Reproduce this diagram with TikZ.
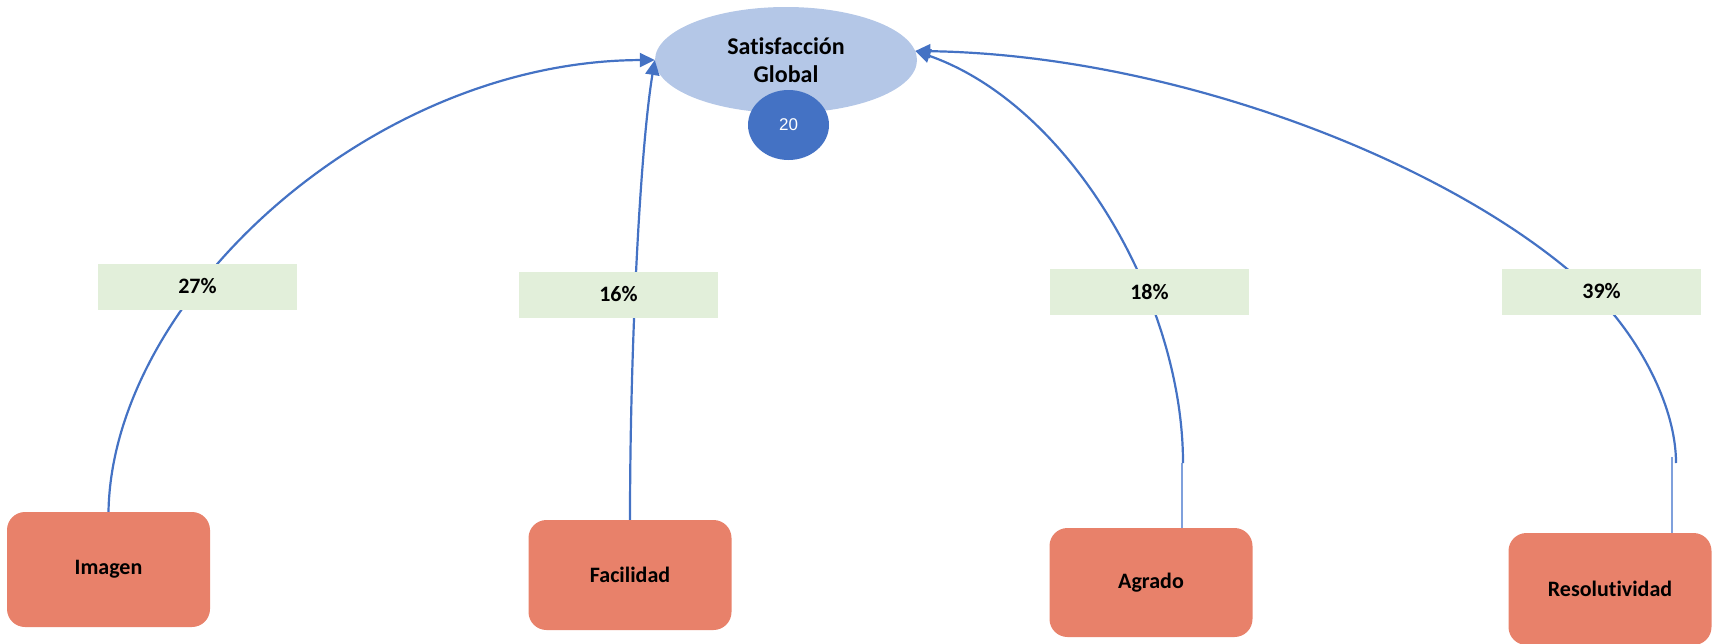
\documentclass[tikz,border=0pt]{standalone}
\usepackage{fontspec}
\setmainfont[Ligatures=NoCommon]{Carlito}
\newfontfamily\arialf{Liberation Sans}
\usetikzlibrary{shapes.geometric,arrows.meta}
\definecolor{lblue}{HTML}{4472C4}
\definecolor{ell}{HTML}{B4C7E7}
\definecolor{org}{HTML}{E8816A}
\definecolor{grn}{HTML}{E2EFDA}
\definecolor{thinb}{HTML}{7FA0DC}
\begin{document}
\begin{tikzpicture}[x=1pt,y=-1pt,
  factor/.style={fill=org, rounded corners=18pt, minimum width=203pt, inner sep=0pt,
    font=\bfseries\fontsize{22}{26}\selectfont},
  pct/.style={fill=grn, minimum width=199pt, minimum height=46pt, inner sep=0pt,
    font=\bfseries\fontsize{22}{26}\selectfont},
  link/.style={draw=lblue, line width=2.2pt, -{Triangle[length=15pt,width=14pt]}},
  stub/.style={draw=thinb, line width=1.2pt}]
\useasboundingbox (0,0) rectangle (1718,643);

% central ellipse
\node[ellipse, fill=ell, minimum width=262pt, minimum height=106pt, inner sep=0pt,
  align=center, font=\bfseries\fontsize{24}{28}\selectfont] (sat) at (786,60) {Satisfacción\\Global};
\node[ellipse, fill=lblue, minimum width=81pt, minimum height=70pt, inner sep=0pt,
  text=white, font=\arialf\fontsize{17}{20}\selectfont] (n20) at (788.5,125) {20};

% factor boxes
\node[factor, minimum height=115pt] (imagen) at (108.5,569.5) {Imagen};
\node[factor, minimum height=110pt] (facil) at (630,575) {Facilidad};
\node[factor, minimum height=109pt] (agrado) at (1151,582.5) {Agrado};
\node[factor, minimum height=112pt] (resol) at (1610,589) {Resolutividad};

% helper coordinates
\coordinate (agc) at (1183,463);
\coordinate (agt) at (1182,463);
\coordinate (rsc) at (1676,463);
\coordinate (rst) at (1672,457);
\coordinate (rsm) at (1592,291);

% connectors
\draw[link] (imagen.north) .. controls (112,300) and (370,61) .. (sat.west);
\draw[link] (facil.north) .. controls (630,350) and (640,150) .. (sat.west);
\draw[stub] (agrado.north -| agt) -- (agt);
\draw[link] (agc) .. controls (1183,300) and (1070,105) .. (sat.4);
\draw[stub] (resol.north -| rst) -- (rst);
\draw[link] (rsc) .. controls (1676,403) and (1635,332) .. (rsm)
  .. controls (1462,167) and (1180,55) .. (sat.4);

% percentage labels
\node[pct] (l27) at (197.5,286.5) {27\%};
\node[pct] (l16) at (618.5,294.5) {16\%};
\node[pct] (l18) at (1149.5,291.5) {18\%};
\node[pct] (l39) at (1601.5,291.5) {39\%};
\end{tikzpicture}
\end{document}
